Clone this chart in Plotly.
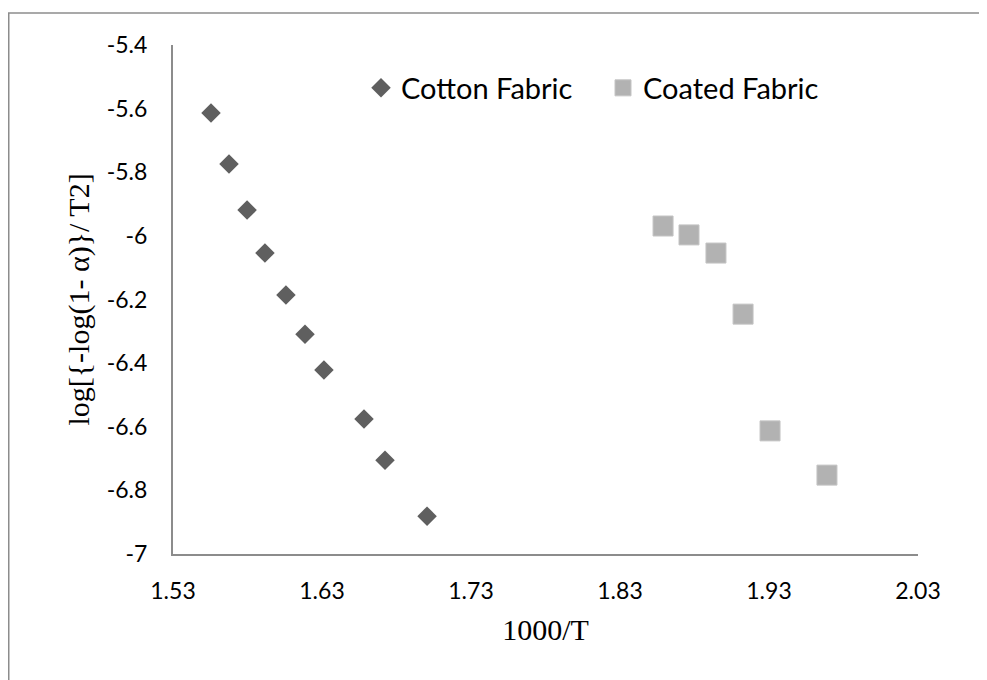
import plotly.graph_objects as go

# Data
cotton_x = [1.5555, 1.5676, 1.5797, 1.5917, 1.6058, 1.6186, 1.6313, 1.6582, 1.6723, 1.7005]
cotton_y = [-5.614, -5.774, -5.919, -6.054, -6.186, -6.309, -6.422, -6.576, -6.705, -6.881]
coated_x = [1.8589, 1.8763, 1.8944, 1.9126, 1.9307, 1.9689]
coated_y = [-5.969, -5.997, -6.054, -6.246, -6.613, -6.752]

x_tick_vals = [1.53, 1.63, 1.73, 1.83, 1.93, 2.03]
x_tick_text = ["1.53", "1.63", "1.73", "1.83", "1.93", "2.03"]
y_tick_vals = [-5.4, -5.6, -5.8, -6.0, -6.2, -6.4, -6.6, -6.8, -7.0]
y_tick_text = ["-5.4", "-5.6", "-5.8", "-6", "-6.2", "-6.4", "-6.6", "-6.8", "-7"]

# page body has an 8px margin, so the figure is kept smaller than the window
W, H = 971, 672
ML, MR, MT, MB = 165, 61, 37, 126
PW, PH = W - ML - MR, H - MT - MB

fig = go.Figure()
fig.add_trace(go.Scatter(
    x=cotton_x, y=cotton_y, mode="markers", name="Cotton Fabric",
    marker=dict(symbol="diamond", size=15, color="#5f5f5f", line=dict(width=0)),
))
fig.add_trace(go.Scatter(
    x=coated_x, y=coated_y, mode="markers", name="Coated Fabric",
    marker=dict(symbol="square", size=20, color="#b2b2b2", line=dict(width=1, color="#c4c4c4")),
))

axis_common = dict(
    showgrid=False, zeroline=False, showline=True, linecolor="#8c8c8c", linewidth=2,
    ticks="", tickfont=dict(family="Lato", size=23, color="#000000"),
)

px_x = lambda p: (p - ML) / PW
px_y = lambda p: (H - MB - p) / PH

fig.update_layout(
    width=W, height=H,
    margin=dict(l=ML, r=MR, t=MT, b=MB, autoexpand=False),
    paper_bgcolor="white", plot_bgcolor="white",
    showlegend=True,
    legend=dict(
        orientation="h", x=px_x(353), y=px_y(80),
        xanchor="left", yanchor="middle",
        font=dict(family="Lato", size=29, color="#000000"),
        bgcolor="rgba(0,0,0,0)", itemwidth=30, tracegroupgap=0,
        entrywidth=197,
    ),
    xaxis=dict(
        range=[1.53, 2.03], tickvals=x_tick_vals, ticktext=x_tick_text,
        ticklabelstandoff=15,
        title=dict(text="1000/T", font=dict(family="Liberation Serif", size=30, color="#000000"), standoff=16),
        automargin=False, **axis_common,
    ),
    yaxis=dict(
        range=[-7.0, -5.4], tickvals=y_tick_vals, ticktext=y_tick_text,
        ticklabelstandoff=19,
        title=dict(text="log[{-log(1- α)}/ T2]", font=dict(family="Liberation Serif", size=30, color="#000000"), standoff=8),
        automargin=False, **axis_common,
    ),
    shapes=[
        dict(type="line", xref="paper", yref="paper",
             x0=px_x(0.75), x1=px_x(0.75), y0=px_y(5), y1=px_y(H + 10),
             line=dict(color="#8c8c8c", width=1.5), layer="below"),
        dict(type="line", xref="paper", yref="paper",
             x0=px_x(0), x1=px_x(W + 10), y0=px_y(5), y1=px_y(5),
             line=dict(color="#8c8c8c", width=1.5), layer="below"),
    ],
)

fig.write_html("out.html")
